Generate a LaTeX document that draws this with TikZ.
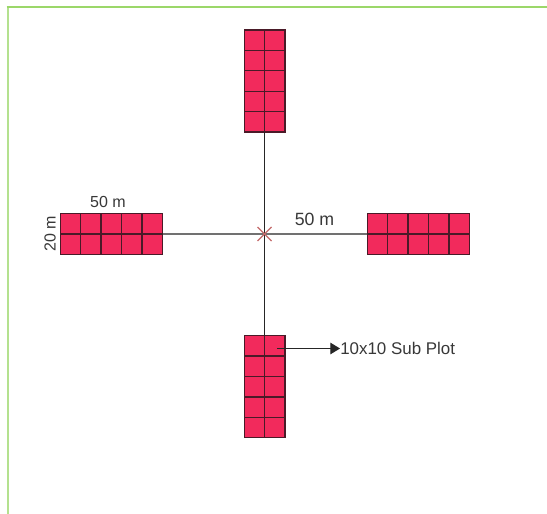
\documentclass[tikz,border=0pt]{standalone}
\usepackage{fontspec}
\setmainfont{Liberation Sans}
\usetikzlibrary{arrows.meta}
\definecolor{plotfill}{HTML}{F22A5C}
\definecolor{plotline}{HTML}{4A1A28}
\definecolor{frameg}{HTML}{9BD769}
\definecolor{crossc}{HTML}{C46A6A}
\tikzset{x=0.75pt,y=-0.75pt,
 cellbox/.style={draw=plotline,fill=plotfill,line width=0.95pt,minimum width=20.4*0.75pt,minimum height=20.4*0.75pt,inner sep=0pt,outer sep=0pt},
 conn/.style={draw=black!85,line width=0.8pt},
 lab/.style={font=\fontsize{12pt}{14pt}\selectfont,text=black!78,inner sep=0pt}}
\begin{document}
\begin{tikzpicture}
\useasboundingbox (0,0) rectangle (547,514);
\fill[white] (0,0) rectangle (547,514);
\draw[frameg!75,line width=1.5pt] (7.5,514) -- (7.5,7);
\draw[frameg,line width=1.5pt] (6.5,7) -- (547,7);
\foreach \cx/\cy/\nx/\ny/\pre in {244.3/30/2/5/t,244.3/335.7/2/5/b,60.3/213.6/5/2/l,367.3/213.6/5/2/r}{
 \foreach \i in {1,...,\nx}{\foreach \j in {1,...,\ny}{
  \node[cellbox] (\pre\i\j) at ({\cx+(\i-0.5)*20.4},{\cy+(\j-0.5)*20.4}) {};
 }}
}
\draw[conn] (t25.south west) -- (b11.north east);
\draw[conn] (l52.north east) -- (r11.south west);
\draw[crossc,line width=0.8pt] (257.5,227) -- (271.5,241) (257.5,241) -- (271.5,227);
\node[lab,anchor=west,font=\fontsize{12.7pt}{15pt}\selectfont] (sub) at (340,348) {10x10 Sub Plot};
\coordinate (s) at (277,348.5);
\draw[conn,-{Triangle[length=7.2pt,width=8.6pt]}] (s) -- (sub.west |- s);
\node[lab] (w1) at (108,201.5) {50 m};
\node[lab,rotate=90] (h1) at (50,233.5) {20 m};
\node[lab,font=\fontsize{13.3pt}{15pt}\selectfont] (w2) at (314.5,219) {50 m};
\end{tikzpicture}
\end{document}
